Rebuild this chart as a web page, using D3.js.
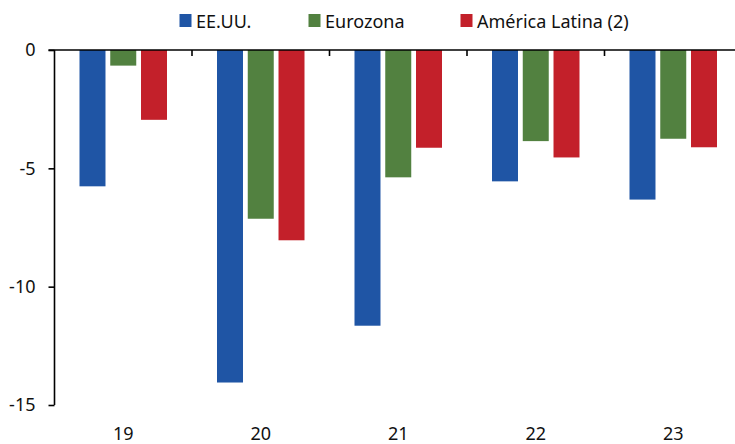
<!DOCTYPE html>
<html>
<head>
<meta charset="utf-8">
<script src="https://cdn.jsdelivr.net/npm/d3@7"></script>
<style>
  html, body { margin: 0; padding: 0; background: #fff; }
  svg { display: block; font-family: "Noto Sans", "Open Sans", sans-serif; }
</style>
</head>
<body>
<svg id="chart" width="735" height="444"></svg>
<script>
const categories = ["19", "20", "21", "22", "23"];
const seriesNames = ["EE.UU.", "Eurozona", "América Latina (2)"];
const usa = [-5.76, -14.05, -11.65, -5.55, -6.32];
const eurozone = [-0.66, -7.13, -5.38, -3.85, -3.75];
const latam = [-2.95, -8.04, -4.13, -4.54, -4.11];
const yTicks = [0, -5, -10, -15];
const colors = ["#1F55A5", "#528140", "#C3202A"];

const seriesValues = [usa, eurozone, latam];
const data = categories.map((c, i) => ({
  cat: c,
  vals: seriesNames.map((s, j) => ({ series: s, value: seriesValues[j][i], color: colors[j] }))
}));

const svg = d3.select("#chart");
const x0 = 54.5, step = 137.5;
const x = d3.scaleBand().domain(categories).range([x0, x0 + step * categories.length]).padding(0);
const xs = d3.scaleBand().domain(seriesNames).range([-43.75, 43.75]).paddingInner(0.155).paddingOuter(0);
const y = d3.scaleLinear().domain([-15, 0]).range([405, 50]);

// bars
const g = svg.append("g");
g.selectAll("g.grp").data(data).join("g")
  .attr("class", "grp")
  .attr("transform", d => `translate(${x(d.cat) + x.bandwidth() / 2},0)`)
  .selectAll("rect").data(d => d.vals).join("rect")
  .attr("x", d => xs(d.series))
  .attr("width", xs.bandwidth())
  .attr("y", d => y(Math.max(0, d.value)))
  .attr("height", d => Math.abs(y(d.value) - y(0)))
  .attr("fill", d => d.color);

// y axis
const yAxis = d3.axisLeft(y).tickValues(yTicks).tickSize(6).tickPadding(13).tickFormat(d => String(d));
const ya = svg.append("g").attr("transform", `translate(${x0},0)`).call(yAxis);
ya.select(".domain").attr("d", `M0,${y(0)}V${y(-15)}`).attr("stroke", "#000").attr("stroke-width", 1.6);
ya.selectAll(".tick line").attr("stroke", "#000").attr("stroke-width", 1.6);
ya.selectAll(".tick text").attr("font-size", 18).attr("fill", "#111").attr("font-family", "'Noto Sans', sans-serif");

// x axis line at zero with tick marks between categories
const xa = svg.append("g");
xa.append("line").attr("x1", x0 - 6).attr("x2", 735).attr("y1", y(0)).attr("y2", y(0))
  .attr("stroke", "#000").attr("stroke-width", 1.6);
xa.selectAll("line.tk").data(categories.slice(1)).join("line")
  .attr("class", "tk")
  .attr("x1", d => x(d)).attr("x2", d => x(d))
  .attr("y1", y(0)).attr("y2", y(0) + 6)
  .attr("stroke", "#000").attr("stroke-width", 1.6);

// category labels at bottom
svg.append("g").selectAll("text").data(categories).join("text")
  .attr("x", d => x(d) + x.bandwidth() / 2)
  .attr("y", 440)
  .attr("text-anchor", "middle")
  .attr("font-size", 18)
  .attr("fill", "#111")
  .text(d => d);

// legend
const legendX = [179.5, 308.5, 460.5];
const lg = svg.append("g");
seriesNames.forEach((s, i) => {
  lg.append("rect").attr("x", legendX[i]).attr("y", 14).attr("width", 12).attr("height", 13).attr("fill", colors[i]);
  lg.append("text").attr("x", legendX[i] + 16.5).attr("y", 27.5)
    .attr("font-size", 18).attr("fill", "#111").text(s);
});
</script>
</body>
</html>
